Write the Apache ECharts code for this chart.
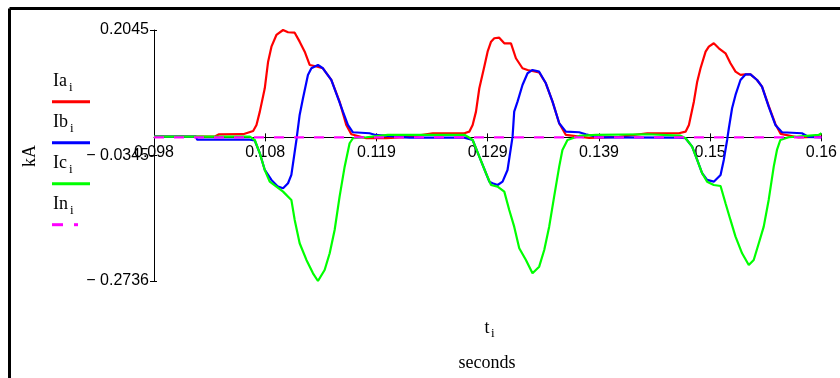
<!DOCTYPE html>
<html><head><meta charset="utf-8">
<script src="https://cdn.jsdelivr.net/npm/echarts@6/dist/echarts.min.js"></script>
<style>html,body{margin:0;padding:0;background:#fff}#c{width:840px;height:378px}</style>
</head><body><div id="c"></div>
<script>
// ---- data (time in seconds, current in kA) ----
const iaTime = [0.09800,0.10370,0.10400,0.10628,0.10721,0.10752,0.10783,0.10829,0.10860,0.10891,0.10937,0.10999,0.11045,0.11107,0.11153,0.11200,0.11246,0.11292,0.11369,0.11447,0.11524,0.11586,0.11633,0.11772,0.11957,0.12173,0.12389,0.12683,0.12729,0.12760,0.12791,0.12822,0.12868,0.12899,0.12931,0.12961,0.13007,0.13054,0.13116,0.13162,0.13223,0.13270,0.13378,0.13440,0.13502,0.13564,0.13626,0.13842,0.14120,0.14382,0.14676,0.14738,0.14769,0.14815,0.14846,0.14877,0.14924,0.14954,0.15000,0.15047,0.15109,0.15155,0.15202,0.15248,0.15294,0.15341,0.15402,0.15448,0.15510,0.15572,0.15622,0.15788,0.16000];
const iaValue = [0.0015,0.0020,0.0055,0.0060,0.0122,0.0236,0.0490,0.0935,0.1442,0.1728,0.1950,0.2045,0.2002,0.1994,0.1823,0.1632,0.1379,0.1360,0.1316,0.1093,0.0680,0.0236,0.0059,-0.0017,-0.0017,0.0008,0.0078,0.0078,0.0109,0.0236,0.0490,0.0935,0.1347,0.1632,0.1823,0.1888,0.1899,0.1792,0.1792,0.1507,0.1316,0.1284,0.1236,0.1030,0.0680,0.0269,0.0046,-0.0011,0.0008,0.0078,0.0078,0.0109,0.0236,0.0680,0.1061,0.1316,0.1632,0.1728,0.1792,0.1697,0.1602,0.1411,0.1251,0.1189,0.1198,0.1198,0.1093,0.0966,0.0598,0.0255,0.0065,-0.0002,0.0013];

const ibTime = [0.09800,0.10190,0.10200,0.10690,0.10736,0.10783,0.10829,0.10891,0.10952,0.10999,0.11045,0.11076,0.11123,0.11153,0.11184,0.11230,0.11262,0.11323,0.11369,0.11447,0.11555,0.11601,0.11648,0.11802,0.11858,0.12080,0.12173,0.12683,0.12760,0.12822,0.12884,0.12915,0.12945,0.12992,0.13038,0.13084,0.13131,0.13146,0.13177,0.13223,0.13270,0.13316,0.13378,0.13440,0.13502,0.13564,0.13626,0.13749,0.13811,0.13934,0.14676,0.14738,0.14799,0.14846,0.14892,0.14938,0.15000,0.15063,0.15093,0.15124,0.15140,0.15170,0.15202,0.15248,0.15294,0.15341,0.15402,0.15448,0.15510,0.15572,0.15634,0.15819,0.15881,0.16000];
const ibValue = [0.0015,0.0015,-0.0045,-0.0045,-0.0060,-0.0303,-0.0621,-0.0811,-0.0939,-0.0970,-0.0874,-0.0716,-0.0050,0.0427,0.0745,0.1189,0.1316,0.1379,0.1316,0.1093,0.0490,0.0236,0.0097,0.0078,0.0046,0.0008,-0.0005,-0.0005,-0.0050,-0.0368,-0.0684,-0.0844,-0.0874,-0.0907,-0.0844,-0.0621,0.0013,0.0490,0.0680,0.0998,0.1221,0.1284,0.1251,0.1030,0.0680,0.0269,0.0109,0.0097,0.0059,-0.0002,-0.0006,-0.0017,-0.0177,-0.0430,-0.0684,-0.0811,-0.0844,-0.0716,-0.0430,-0.0050,0.0173,0.0554,0.0808,0.1093,0.1198,0.1198,0.1093,0.0966,0.0585,0.0236,0.0097,0.0078,0.0008,0.0000];

const icTime = [0.09800,0.10690,0.10736,0.10783,0.10829,0.10875,0.10937,0.10999,0.11076,0.11107,0.11153,0.11216,0.11277,0.11323,0.11385,0.11432,0.11478,0.11524,0.11571,0.11617,0.11648,0.11772,0.11972,0.12683,0.12714,0.12760,0.12822,0.12884,0.12931,0.12992,0.13054,0.13100,0.13146,0.13193,0.13255,0.13316,0.13378,0.13425,0.13471,0.13517,0.13564,0.13594,0.13641,0.13749,0.13904,0.14379,0.14692,0.14738,0.14799,0.14846,0.14892,0.14938,0.15000,0.15063,0.15109,0.15155,0.15202,0.15263,0.15325,0.15371,0.15418,0.15464,0.15510,0.15557,0.15587,0.15618,0.15696,0.15974,0.16000];
const icValue = [0.0015,0.0015,-0.0050,-0.0303,-0.0621,-0.0844,-0.0939,-0.1034,-0.1192,-0.1573,-0.2017,-0.2335,-0.2589,-0.2736,-0.2526,-0.2208,-0.1764,-0.1130,-0.0558,-0.0112,-0.0017,0.0002,0.0046,0.0050,0.0013,-0.0050,-0.0368,-0.0684,-0.0907,-0.0939,-0.1034,-0.1383,-0.1701,-0.2112,-0.2335,-0.2589,-0.2463,-0.2145,-0.1701,-0.1130,-0.0558,-0.0240,-0.0050,0.0027,0.0046,0.0059,0.0032,-0.0017,-0.0177,-0.0430,-0.0684,-0.0844,-0.0907,-0.0926,-0.1255,-0.1573,-0.1891,-0.2208,-0.2430,-0.2335,-0.2017,-0.1701,-0.1192,-0.0558,-0.0240,-0.0050,0.0002,0.0046,0.0078];

const inTime = [0.09800,0.16000];
const inValue = [0.0000,0.0000];

const xTickValues = [0.098,0.1083333,0.1186667,0.129,0.1393333,0.1496667,0.16];
const xTickLabels = ['0.098','0.108','0.119','0.129','0.139','0.15','0.16'];
const yTickValues = [-0.2736,-0.03455,0.2045];
const yTickLabels = ['\u2212 0.2736','\u2212 0.0345','0.2045'];
const seriesNames = ['Ia','Ib','Ic','In'];
const seriesColors = ['#ff0000','#0000ff','#00ff00','#ff00ff'];

// ---- build ----
const zip = (t, v) => t.map((x, i) => [x, v[i]]);
const seriesData = [zip(iaTime, iaValue), zip(ibTime, ibValue), zip(icTime, icValue), zip(inTime, inValue)];
const nearestLabel = (vals, labels, v) => {
  let best = 0;
  vals.forEach((x, i) => { if (Math.abs(x - v) < Math.abs(vals[best] - v)) best = i; });
  return labels[best];
};

const SANS = 'Liberation Sans, Arial, sans-serif';
const SERIF = 'Liberation Serif, Times New Roman, serif';

const GRID = {left: 154, right: 17, top: 30, bottom: 97};
const plotH = 378 - GRID.top - GRID.bottom;
const yMin = yTickValues[0], yMax = yTickValues[yTickValues.length - 1];
// x axis sits on the zero line: shift it up from the grid bottom by the pixel height of 0 - yMin
const zeroOffset = -plotH * (0 - yMin) / (yMax - yMin);

const chart = echarts.init(document.getElementById('c'), null, {renderer: 'canvas'});

const legendGraphics = [];
const legendY0 = 81.5, legendStep = 41;
seriesNames.forEach((n, i) => {
  const y = legendY0 + i * legendStep;
  legendGraphics.push({type: 'text', x: 53, y: y, style: {text: n, font: '18px ' + SERIF, fill: '#000', verticalAlign: 'middle', align: 'left'}});
  legendGraphics.push({type: 'text', x: n === 'In' || n === 'Ib' ? 70 : 69, y: y + 6.5, style: {text: 'i', font: '13px ' + SERIF, fill: '#000', verticalAlign: 'middle', align: 'left'}});
  legendGraphics.push({type: 'line', shape: {x1: 52, y1: y + 20.2, x2: n === 'In' ? 78 : 90, y2: y + 20.2},
    style: {stroke: seriesColors[i], lineWidth: 3, lineDash: n === 'In' ? [11, 11] : null}});
});

chart.setOption({
  animation: false,
  backgroundColor: '#ffffff',
  grid: Object.assign({containLabel: false}, GRID),
  xAxis: [{
    type: 'value', min: 0.098, max: 0.16, position: 'bottom', offset: zeroOffset,
    axisLine: {show: true, onZero: false, lineStyle: {color: '#000', width: 1}},
    axisTick: {show: true, length: 4, inside: false, customValues: xTickValues, lineStyle: {color: '#000', width: 1}},
    axisLabel: {show: true, customValues: xTickValues, margin: 7, color: '#000', fontFamily: SANS, fontSize: 16,
      formatter: v => nearestLabel(xTickValues, xTickLabels, v)},
    splitLine: {show: false}
  }, {
    type: 'value', min: 0.098, max: 0.16, position: 'bottom', offset: zeroOffset,
    axisLine: {show: false, onZero: false},
    axisTick: {show: true, length: 4, inside: true, customValues: xTickValues, lineStyle: {color: '#000', width: 1}},
    axisLabel: {show: false},
    splitLine: {show: false}
  }],
  yAxis: [{
    type: 'value', min: yMin, max: yMax,
    axisLine: {show: true, onZero: false, lineStyle: {color: '#000', width: 1}},
    axisTick: {show: true, length: 4, inside: false, customValues: yTickValues, lineStyle: {color: '#000', width: 1}},
    axisLabel: {show: true, customValues: yTickValues, margin: 5, color: '#000', fontFamily: SANS, fontSize: 16,
      formatter: v => nearestLabel(yTickValues, yTickLabels, v)},
    splitLine: {show: false}
  }, {
    type: 'value', min: yMin, max: yMax, position: 'left',
    axisLine: {show: false, onZero: false},
    axisTick: {show: true, length: 3, inside: true, customValues: yTickValues, lineStyle: {color: '#000', width: 1}},
    axisLabel: {show: false},
    splitLine: {show: false}
  }],
  series: seriesNames.map((n, i) => ({
    name: n, type: 'line', data: seriesData[i], showSymbol: false, symbol: 'none', clip: false,
    xAxisIndex: 0, yAxisIndex: 0,
    lineStyle: {color: seriesColors[i], width: 2.2, type: n === 'In' ? [10, 10] : 'solid'},
    itemStyle: {color: seriesColors[i]},
    emphasis: {disabled: true}
  })),
  graphic: [
    {type: 'line', shape: {x1: 9.5, y1: 8.5, x2: 840, y2: 8.5}, style: {stroke: '#000', lineWidth: 3}},
    {type: 'line', shape: {x1: 9.5, y1: 8.5, x2: 9.5, y2: 378}, style: {stroke: '#000', lineWidth: 3}},
    {type: 'text', x: 30, y: 156, rotation: Math.PI / 2, style: {text: 'kA', font: '18px ' + SERIF, fill: '#000', align: 'center', verticalAlign: 'middle'}},
    {type: 'text', x: 487, y: 328, style: {text: 't', font: '18px ' + SERIF, fill: '#000', align: 'center', verticalAlign: 'middle'}},
    {type: 'text', x: 491, y: 334, style: {text: 'i', font: '13px ' + SERIF, fill: '#000', align: 'left', verticalAlign: 'middle'}},
    {type: 'text', x: 487, y: 363, style: {text: 'seconds', font: '18px ' + SERIF, fill: '#000', align: 'center', verticalAlign: 'middle'}}
  ].concat(legendGraphics)
});
</script>
</body></html>
